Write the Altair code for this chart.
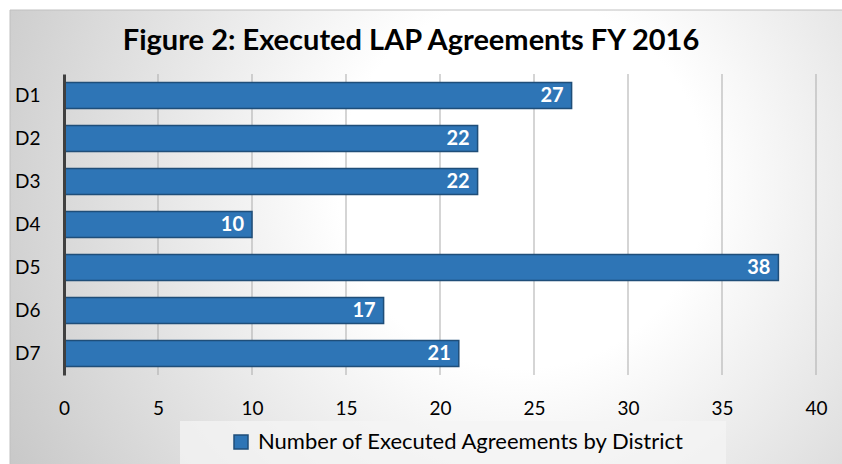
import altair as alt
import pandas as pd

districts = ["D1", "D2", "D3", "D4", "D5", "D6", "D7"]
agreements = [27, 22, 22, 10, 38, 17, 21]
series_name = "Number of Executed Agreements by District"
chart_title = "Figure 2: Executed LAP Agreements FY 2016"
x_ticks = [0, 5, 10, 15, 20, 25, 30, 35, 40]
grid_ticks = [5, 10, 15, 20, 25, 30, 35, 40]

FONT = "Lato"
W, H = 752, 301

df = pd.DataFrame({"district": districts, "value": agreements, "series": [series_name] * len(districts)})
grid_df = pd.DataFrame({"tick": grid_ticks})
one = pd.DataFrame({"t": [chart_title]})

xscale = alt.Scale(domain=[0, 40], nice=False, zero=True)
yscale = alt.Scale(domain=districts, paddingInner=0.4, paddingOuter=0.2)

bg = alt.Chart(one).mark_rect(
    fill={
        "gradient": "radial",
        "x1": 0.6, "y1": 0.42, "r1": 0,
        "x2": 0.6, "y2": 0.42, "r2": 0.72,
        "stops": [
            {"offset": 0, "color": "#ffffff"},
            {"offset": 0.3, "color": "#ffffff"},
            {"offset": 1, "color": "#c4c4c4"},
        ],
    },
    stroke="#c0c0c0", strokeWidth=1,
).encode(
    x=alt.value(-54), x2=alt.value(800), y=alt.value(-64), y2=alt.value(420)
)

legend_box = alt.Chart(one).mark_rect(
    fill="#f4f4f4", opacity=0.75
).encode(
    x=alt.value(116), x2=alt.value(662), y=alt.value(347), y2=alt.value(420)
)

title = alt.Chart(one).mark_text(
    align="center", baseline="alphabetic", font=FONT, fontSize=29,
    fontWeight="bold", color="#000000"
).encode(x=alt.value(347), y=alt.value(-24), text="t:N")

grid = alt.Chart(grid_df).mark_rule(color="#ababab", strokeWidth=1).encode(
    x=alt.X("tick:Q", scale=xscale), y=alt.value(0), y2=alt.value(H)
)

bars = alt.Chart(df).mark_bar(stroke="#1F4E79", strokeWidth=1.5).encode(
    x=alt.X("value:Q", scale=xscale,
            axis=alt.Axis(values=x_ticks, grid=False, domain=False, ticks=False,
                          labelFont=FONT, labelFontSize=19, labelColor="#000000",
                          labelFlush=False, labelPadding=24, title=None, zindex=1)),
    y=alt.Y("district:N", scale=yscale, sort=districts,
            axis=alt.Axis(grid=False, ticks=False, domainColor="#404040", domainWidth=3,
                          labelFont=FONT, labelFontSize=19, labelColor="#000000",
                          labelPadding=24, labelAlign="right", title=None, zindex=1)),
    color=alt.Color("series:N",
                    scale=alt.Scale(domain=[series_name], range=["#2E75B6"]),
                    legend=alt.Legend(title=None, orient="none", legendX=166, legendY=357,
                                      symbolType="square", symbolSize=196,
                                      symbolStrokeColor="#1F4E79", symbolStrokeWidth=1.5,
                                      symbolOpacity=1,
                                      labelFont=FONT, labelFontSize=22, labelColor="#000000",
                                      labelLimit=600, labelOffset=6, padding=0)),
)

labels = alt.Chart(df).mark_text(
    align="right", baseline="middle", dx=-8, color="white",
    font=FONT, fontSize=20, fontWeight="bold"
).encode(
    x=alt.X("value:Q", scale=xscale),
    y=alt.Y("district:N", scale=yscale, sort=districts),
    text="value:Q",
)

chart = alt.layer(bg, legend_box, title, grid, bars, labels).properties(
    width=W, height=H,
    autosize=alt.AutoSizeParams(type="none"),
    padding={"left": 64, "top": 74, "right": 26, "bottom": 89},
).configure(background="white").configure_view(stroke=None)

chart.save("out.html", embed_options={"renderer": "svg", "actions": False})
